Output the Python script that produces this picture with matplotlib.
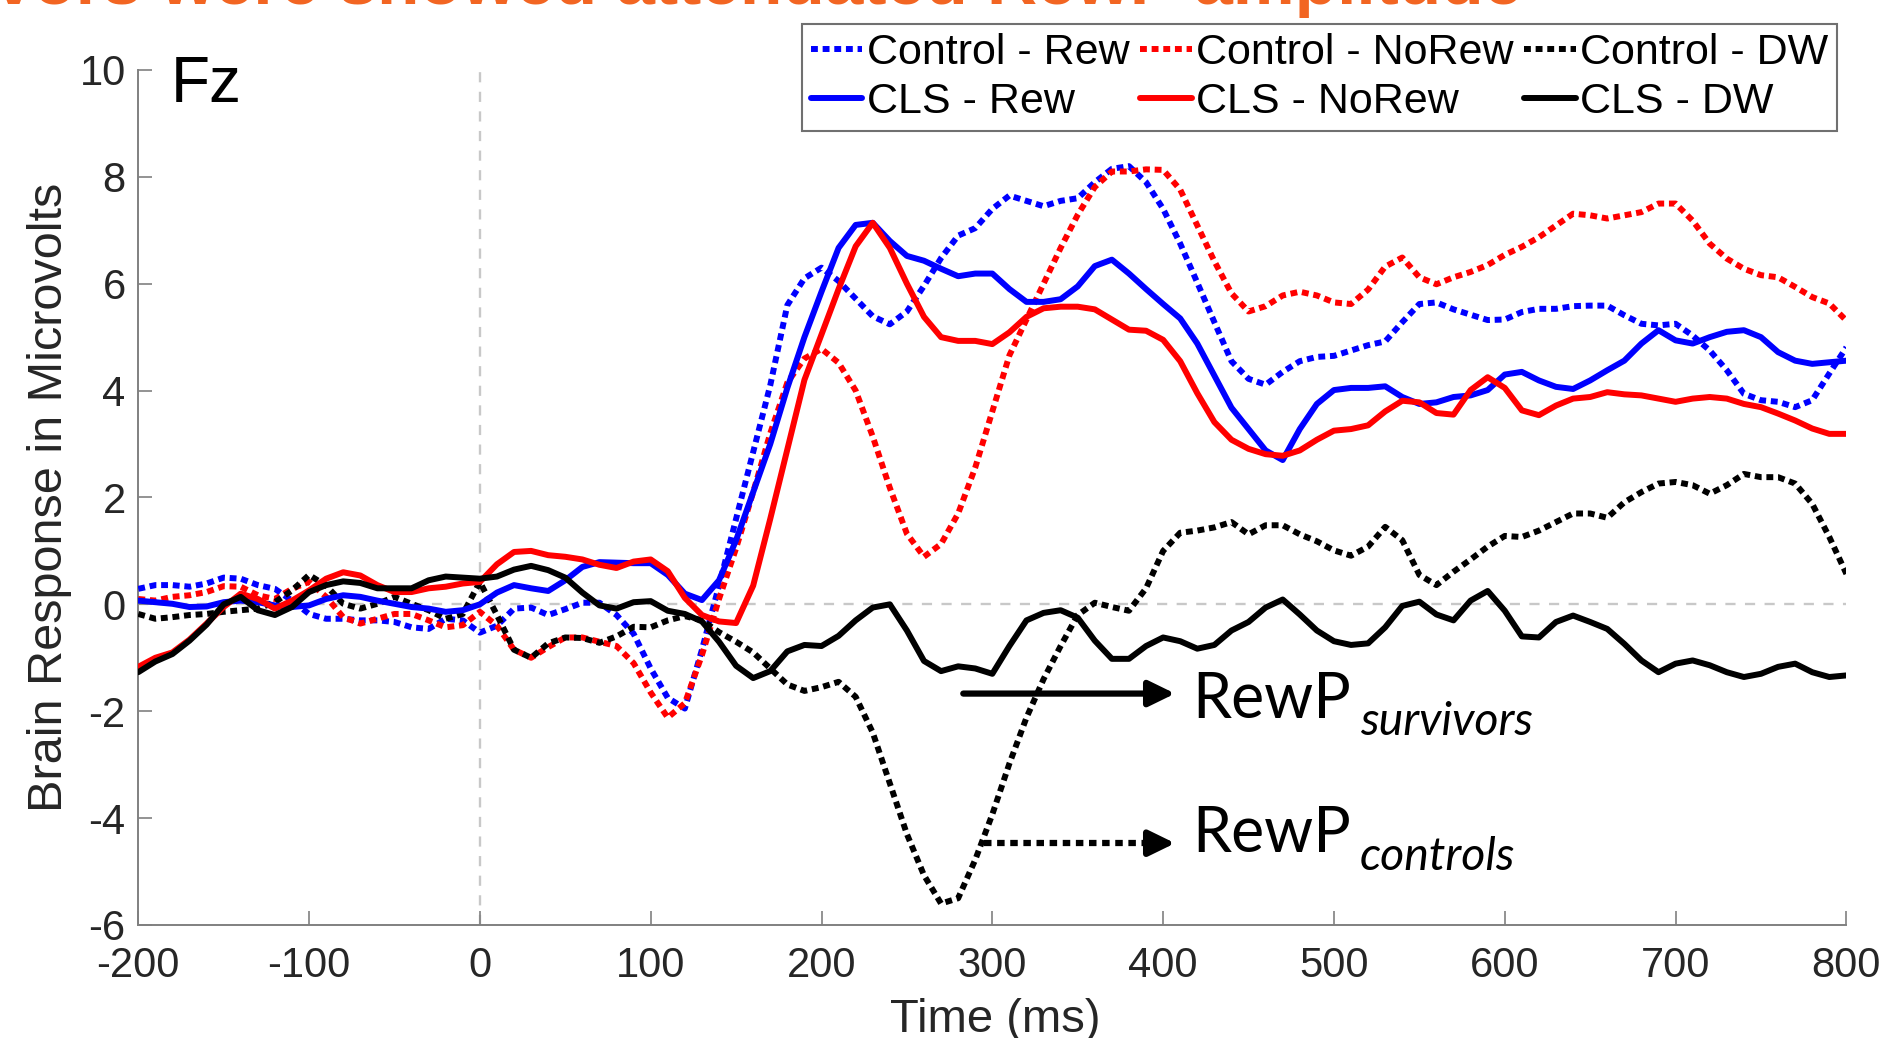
import numpy as np
import matplotlib
matplotlib.use("Agg")
import matplotlib.pyplot as plt

plt.rcParams['font.family'] = ['Liberation Sans', 'DejaVu Sans']
plt.rcParams['axes.unicode_minus'] = False

# ---------------- data (microvolts, sampled every 10 ms from -200 to 800 ms) -------------
time_ms = np.arange(-200, 801, 10)

control_rew = [
    0.29, 0.36, 0.36, 0.33, 0.39, 0.50, 0.48, 0.36, 0.29, 0.07,
    -0.18, -0.27, -0.27, -0.30, -0.30, -0.33, -0.43, -0.46, -0.27, -0.30,
    -0.53, -0.40, -0.08, -0.06, -0.20, -0.09, 0.03, 0.03, -0.20, -0.55,
    -1.20, -1.75, -1.95, -0.85, 0.35, 1.60, 2.85, 4.10, 5.60, 6.10,
    6.30, 6.05, 5.72, 5.39, 5.24, 5.48, 5.96, 6.48, 6.90, 7.04,
    7.40, 7.65, 7.55, 7.45, 7.55, 7.60, 7.90, 8.15, 8.20, 7.90,
    7.40, 6.75, 6.02, 5.28, 4.55, 4.22, 4.11, 4.35, 4.55, 4.63,
    4.65, 4.75, 4.85, 4.92, 5.28, 5.62, 5.65, 5.52, 5.42, 5.32,
    5.33, 5.47, 5.53, 5.53, 5.58, 5.59, 5.59, 5.41, 5.25, 5.22,
    5.25, 5.03, 4.75, 4.38, 3.94, 3.82, 3.79, 3.69, 3.82, 4.32,
    4.81]

control_norew = [
    0.10, 0.07, 0.14, 0.17, 0.23, 0.34, 0.33, 0.17, 0.10, 0.29,
    0.42, 0.14, -0.24, -0.36, -0.27, -0.18, -0.18, -0.30, -0.43, -0.39,
    -0.14, -0.40, -0.85, -1.00, -0.80, -0.62, -0.62, -0.70, -0.78, -1.10,
    -1.65, -2.12, -1.85, -0.95, 0.10, 1.05, 2.10, 3.20, 4.15, 4.60,
    4.78, 4.52, 4.00, 3.14, 2.18, 1.32, 0.89, 1.13, 1.70, 2.56,
    3.61, 4.66, 5.33, 6.00, 6.67, 7.29, 7.81, 8.10, 8.10, 8.14,
    8.13, 7.76, 7.09, 6.42, 5.82, 5.48, 5.58, 5.78, 5.85, 5.78,
    5.65, 5.62, 5.89, 6.32, 6.49, 6.12, 5.99, 6.12, 6.22, 6.35,
    6.54, 6.69, 6.87, 7.09, 7.31, 7.28, 7.22, 7.28, 7.34, 7.50,
    7.50, 7.18, 6.75, 6.47, 6.28, 6.16, 6.12, 5.94, 5.75, 5.63,
    5.31]

control_dw = [
    -0.18, -0.27, -0.24, -0.20, -0.18, -0.14, -0.11, -0.08, 0.04, 0.26,
    0.55, 0.35, 0.01, -0.08, 0.01, 0.14, 0.01, -0.11, -0.27, -0.18,
    0.42, -0.20, -0.85, -1.00, -0.73, -0.62, -0.63, -0.72, -0.60, -0.42,
    -0.43, -0.30, -0.22, -0.30, -0.52, -0.70, -0.90, -1.20, -1.50, -1.62,
    -1.55, -1.45, -1.73, -2.40, -3.35, -4.30, -5.07, -5.60, -5.50, -4.78,
    -3.93, -2.98, -2.12, -1.40, -0.78, -0.20, 0.03, -0.05, -0.12, 0.30,
    1.00, 1.34, 1.38, 1.44, 1.54, 1.31, 1.48, 1.48, 1.31, 1.18,
    1.01, 0.91, 1.08, 1.45, 1.20, 0.55, 0.36, 0.61, 0.84, 1.08,
    1.28, 1.26, 1.38, 1.54, 1.70, 1.70, 1.62, 1.91, 2.10, 2.26,
    2.29, 2.23, 2.07, 2.23, 2.44, 2.38, 2.38, 2.26, 1.88, 1.26,
    0.57]

cls_rew = [
    0.07, 0.04, 0.01, -0.05, -0.04, 0.04, 0.07, 0.04, -0.02, -0.05,
    -0.02, 0.10, 0.17, 0.14, 0.07, 0.01, -0.05, -0.08, -0.14, -0.11,
    0.00, 0.22, 0.36, 0.30, 0.25, 0.45, 0.70, 0.79, 0.78, 0.77,
    0.77, 0.55, 0.20, 0.08, 0.45, 1.20, 2.10, 3.00, 4.05, 5.00,
    5.85, 6.67, 7.10, 7.14, 6.80, 6.52, 6.43, 6.28, 6.14, 6.19,
    6.19, 5.90, 5.66, 5.66, 5.71, 5.95, 6.33, 6.45, 6.19, 5.90,
    5.62, 5.35, 4.88, 4.28, 3.68, 3.28, 2.88, 2.70, 3.28, 3.75,
    4.01, 4.05, 4.05, 4.08, 3.88, 3.75, 3.78, 3.88, 3.91, 4.01,
    4.30, 4.35, 4.19, 4.07, 4.03, 4.19, 4.38, 4.56, 4.88, 5.13,
    4.94, 4.88, 5.00, 5.10, 5.13, 5.00, 4.72, 4.56, 4.50, 4.53,
    4.56]

cls_norew = [
    -1.17, -1.00, -0.90, -0.66, -0.36, -0.05, 0.20, 0.10, -0.08, 0.07,
    0.26, 0.48, 0.60, 0.54, 0.36, 0.23, 0.23, 0.30, 0.33, 0.39,
    0.42, 0.75, 0.98, 1.00, 0.92, 0.89, 0.84, 0.74, 0.68, 0.80,
    0.84, 0.62, 0.12, -0.20, -0.32, -0.35, 0.35, 1.60, 2.90, 4.20,
    5.05, 5.90, 6.70, 7.14, 6.67, 6.00, 5.38, 5.00, 4.93, 4.93,
    4.87, 5.09, 5.38, 5.54, 5.57, 5.57, 5.52, 5.33, 5.14, 5.12,
    4.95, 4.55, 3.95, 3.41, 3.08, 2.91, 2.81, 2.78, 2.88, 3.08,
    3.25, 3.28, 3.35, 3.61, 3.81, 3.78, 3.58, 3.55, 4.01, 4.25,
    4.05, 3.63, 3.54, 3.72, 3.85, 3.88, 3.97, 3.93, 3.91, 3.85,
    3.79, 3.85, 3.88, 3.85, 3.75, 3.69, 3.57, 3.44, 3.29, 3.19,
    3.19]

cls_dw = [
    -1.27, -1.07, -0.93, -0.68, -0.38, 0.00, 0.14, -0.11, -0.20, -0.05,
    0.23, 0.36, 0.43, 0.40, 0.30, 0.30, 0.30, 0.45, 0.52, 0.50,
    0.48, 0.52, 0.65, 0.72, 0.64, 0.50, 0.22, -0.02, -0.08, 0.04,
    0.06, -0.12, -0.18, -0.32, -0.70, -1.15, -1.38, -1.25, -0.88, -0.76,
    -0.78, -0.59, -0.30, -0.06, 0.00, -0.49, -1.06, -1.25, -1.16, -1.20,
    -1.30, -0.78, -0.30, -0.16, -0.11, -0.25, -0.68, -1.02, -1.02, -0.78,
    -0.62, -0.69, -0.83, -0.76, -0.49, -0.33, -0.06, 0.09, -0.19, -0.49,
    -0.69, -0.76, -0.73, -0.43, -0.03, 0.05, -0.19, -0.30, 0.07, 0.25,
    -0.12, -0.60, -0.62, -0.33, -0.21, -0.33, -0.46, -0.74, -1.05, -1.27,
    -1.11, -1.05, -1.14, -1.27, -1.36, -1.30, -1.17, -1.11, -1.27, -1.36,
    -1.33]

legend_labels = ["Control - Rew", "Control - NoRew", "Control - DW",
                 "CLS - Rew", "CLS - NoRew", "CLS - DW"]
x_ticks = [-200, -100, 0, 100, 200, 300, 400, 500, 600, 700, 800]
y_ticks = [-6, -4, -2, 0, 2, 4, 6, 8, 10]

# ---------------- figure ----------------
fig = plt.figure(figsize=(18.86, 10.38), dpi=100)
ax = fig.add_axes([0.0733, 0.1089, 0.9057, 0.8237])

dot = (0, (1.15, 0.8))
lw = 4.3
ax.axhline(0, color='#c8c8c8', lw=1.7, dashes=(4.3, 4), zorder=1)
ax.axvline(0, color='#c8c8c8', lw=1.7, dashes=(4.3, 4), zorder=1)

common = dict(lw=lw, solid_joinstyle='round', dash_joinstyle='round', zorder=3)
h_cr, = ax.plot(time_ms, control_rew, color='#0000ff', ls=dot, dash_capstyle='butt', **common)
h_cn, = ax.plot(time_ms, control_norew, color='#ff0000', ls=dot, dash_capstyle='butt', **common)
h_cd, = ax.plot(time_ms, control_dw, color='#000000', ls=dot, dash_capstyle='butt', **common)
h_sr, = ax.plot(time_ms, cls_rew, color='#0000ff', solid_capstyle='round', **common)
h_sn, = ax.plot(time_ms, cls_norew, color='#ff0000', solid_capstyle='round', **common)
h_sd, = ax.plot(time_ms, cls_dw, color='#000000', solid_capstyle='round', **common)

ax.set_xlim(-200, 800)
ax.set_ylim(-6, 10)
ax.set_xticks(x_ticks)
ax.set_yticks(y_ticks)
ax.tick_params(direction='in', length=10, width=1.2, colors='#808080',
               labelcolor='#262626', labelsize=30)
ax.tick_params(axis='x', pad=15)
ax.tick_params(axis='y', pad=9)
for s in ['top', 'right']:
    ax.spines[s].set_visible(False)
for s in ['left', 'bottom']:
    ax.spines[s].set_color('#808080')
    ax.spines[s].set_linewidth(1.4)

ax.set_xlabel("Time (ms)", fontsize=34, color='#262626')
ax.set_ylabel("Brain Response in Microvolts", fontsize=35, color='#262626')
ax.xaxis.set_label_coords(0.502, -0.085)
ax.yaxis.set_label_coords(-0.039, 0.5)

ax.text(-181, 9.72, "Fz", fontsize=46, va='center', ha='left', color='black')

# legend
handles = [h_cr, h_sr, h_cn, h_sn, h_cd, h_sd]
labels = [legend_labels[0], legend_labels[3], legend_labels[1],
          legend_labels[4], legend_labels[2], legend_labels[5]]
leg = fig.legend(handles, labels, ncol=3, loc='upper right',
                 bbox_to_anchor=(1837 / 1886, 1 - 24 / 1038),
                 fontsize=31, handlelength=1.2, handletextpad=0.1,
                 columnspacing=0.25, labelspacing=0.22, borderpad=0.2,
                 borderaxespad=0.0, frameon=True, fancybox=False,
                 edgecolor='#707070', framealpha=1)
leg.get_frame().set_linewidth(1.5)

# annotations
ax.annotate('', xy=(407, -1.67), xytext=(283, -1.67),
            arrowprops=dict(arrowstyle='-|>,head_length=0.45,head_width=0.22',
                            lw=4.5, color='black', mutation_scale=35,
                            shrinkA=0, shrinkB=0), zorder=5)
ax.plot([295, 398], [-4.47, -4.47], color='black', lw=4.5, ls=(0, (1.2, 0.9)),
        dash_capstyle='butt', zorder=5)
ax.annotate('', xy=(407, -4.47), xytext=(397, -4.47),
            arrowprops=dict(arrowstyle='-|>,head_length=0.45,head_width=0.22',
                            lw=4.5, color='black', mutation_scale=35,
                            shrinkA=0, shrinkB=0), zorder=5)
ax.text(417, -2.13, 'RewP', fontsize=45, family='Lato', ha='left',
        va='baseline', color='black')
ax.text(515, -2.45, 'survivors', fontsize=33.5, family='Lato', style='italic',
        ha='left', va='baseline', color='black')
ax.text(417, -4.63, 'RewP', fontsize=45, family='Lato', ha='left',
        va='baseline', color='black')
ax.text(515, -4.97, 'controls', fontsize=33.5, family='Lato', style='italic',
        ha='left', va='baseline', color='black')

# clipped orange slide title at the very top
fig.text(0.807, 0.9965, "Survivors were showed attenuated RewP amplitude",
         fontsize=50, fontweight='bold', color='#f26522', ha='right',
         va='baseline')

fig.savefig("out.png", dpi=100)
